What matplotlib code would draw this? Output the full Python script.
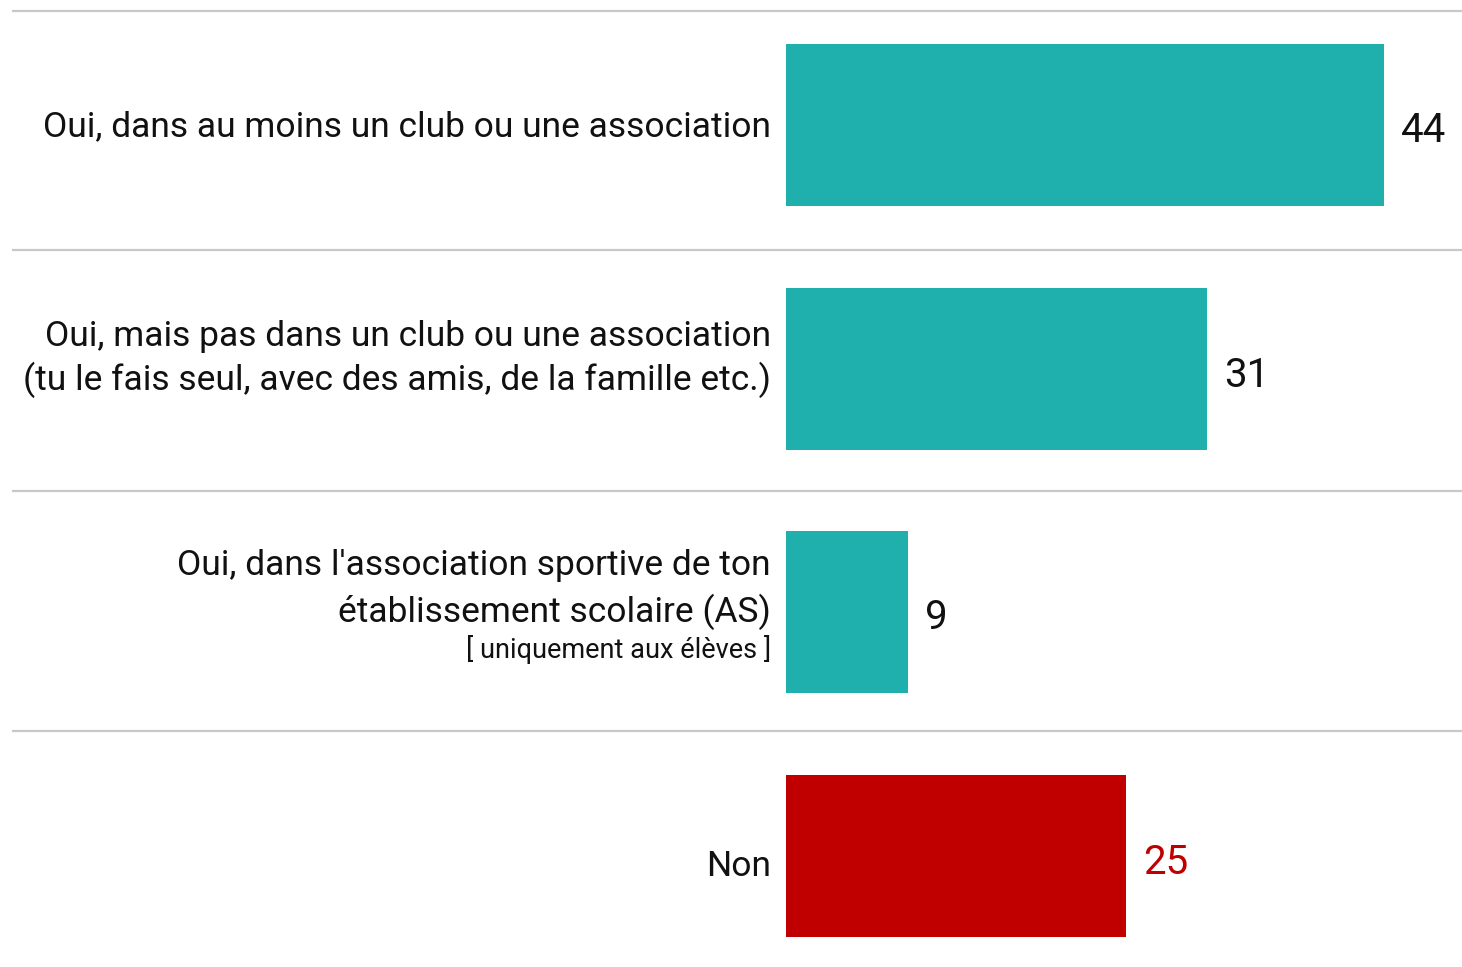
import matplotlib
matplotlib.use("Agg")
import matplotlib.pyplot as plt

categories = [
    ["Oui, dans au moins un club ou une association"],
    ["Oui, mais pas dans un club ou une association",
     "(tu le fais seul, avec des amis, de la famille etc.)"],
    ["Oui, dans l'association sportive de ton",
     "établissement scolaire (AS)"],
    ["Non"],
]
notes = ["", "", "[ uniquement aux élèves ]", ""]
values = [44, 31, 9, 25]
colors = ["#1FB0AE", "#1FB0AE", "#1FB0AE", "#C00000"]
label_colors = ["#111111", "#111111", "#111111", "#C00000"]

W, H = 1462, 967
fig = plt.figure(figsize=(W / 100, H / 100), dpi=100)
ax = fig.add_axes([0, 0, 1, 1])

px_per_unit = 598 / 44.0
x0 = 786
ax.set_xlim(-x0 / px_per_unit, (W - x0) / px_per_unit)
row = 243.7
c0 = 125
ax.set_ylim((H - c0) / row, -c0 / row)


def py(p):
    return (p - c0) / row


def px(p):
    return (p - x0) / px_per_unit


y = list(range(len(values)))
ax.barh(y, values, height=162 / row, color=colors, linewidth=0)

for gy in [11, 250, 491, 731]:
    ax.plot([px(12), px(W)], [py(gy), py(gy)],
            color="#C8C8C8", lw=1.6, solid_capstyle="butt")

fam = ["Roboto", "DejaVu Sans"]
# baseline offsets (pixels) of each text line relative to the row centre
line_offsets = [[11], [-23, 21], [-37, 9], [20]]
note_offset = 46
num_offsets = [17, 18, 17, 18]
for i, (lines, note, v, lc) in enumerate(zip(categories, notes, values, label_colors)):
    cpx = c0 + i * row
    for ln, off in zip(lines, line_offsets[i]):
        ax.text(px(771), py(cpx + off), ln, ha="right", va="baseline",
                fontsize=25.5, family=fam, color="#111111")
    if note:
        ax.text(px(771), py(cpx + note_offset), note, ha="right", va="baseline",
                fontsize=19.5, family=fam, color="#111111")
    ax.text(v + 17 / px_per_unit, py(cpx + num_offsets[i]), str(v), ha="left",
            va="baseline", fontsize=29, family=fam, color=lc)

ax.axis("off")
fig.savefig("out.png", dpi=100)
